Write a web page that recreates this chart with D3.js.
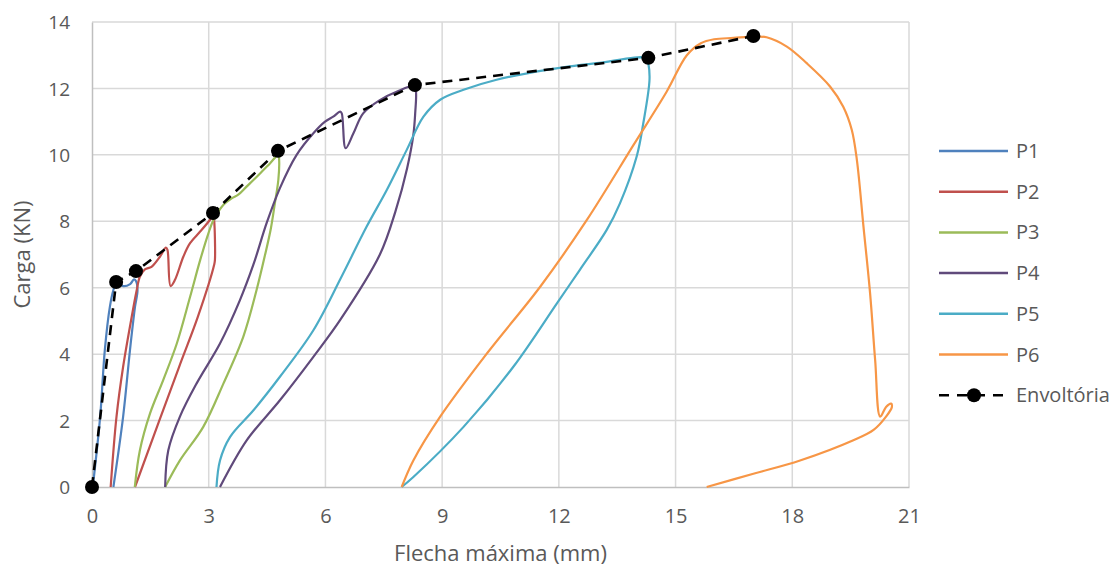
<!DOCTYPE html>
<html>
<head>
<meta charset="utf-8">
<script src="https://cdn.jsdelivr.net/npm/d3@7"></script>
<style>
  body { margin: 0; background: #fff; }
  svg text { font-family: "Open Sans", "Liberation Sans", sans-serif; fill: #595959; }
</style>
</head>
<body>
<div id="chart"></div>
<script>
// series: [flecha (mm), carga (kN)]
const p1 = [[0.02,0],[0.21,2.12],[0.33,4.13],[0.46,5.43],[0.55,5.93],[0.63,6.18],[0.80,6.05],[0.98,6.11],[1.08,6.25],[1.13,6.2],[1.17,5.93],[1.105,5.42],[0.977,4.13],[0.80,2.12],[0.55,0]];
const p2 = [[0.48,0],[0.63,2.12],[0.80,3.62],[1.02,5.12],[1.15,5.93],[1.23,6.33],[1.36,6.55],[1.53,6.63],[1.75,6.94],[1.90,7.21],[1.94,7.14],[2.02,6.05],[2.13,6.23],[2.35,6.94],[2.52,7.34],[2.78,7.69],[3.03,8.04],[3.12,8.19],[3.14,8.04],[3.16,6.84],[3.14,6.69],[2.72,5.12],[2.24,3.62],[1.105,0]];
const p3 = [[1.1,0],[1.23,1.1],[1.49,2.21],[1.83,3.22],[2.18,4.32],[2.52,5.72],[2.78,6.83],[2.99,7.63],[3.12,8.03],[3.38,8.5],[3.59,8.69],[3.76,8.8],[3.98,9.05],[4.32,9.44],[4.58,9.75],[4.79,10.0],[4.81,9.85],[4.79,9.25],[4.70,8.54],[4.60,7.8],[4.45,7.0],[4.23,5.93],[3.89,4.53],[3.38,3.12],[2.86,1.81],[2.26,0.8],[1.88,0]];
const p4 = [[1.88,0],[1.96,1.1],[2.26,2.12],[2.69,3.12],[3.29,4.32],[3.80,5.62],[4.15,6.7],[4.49,7.95],[4.83,9.0],[5.26,10.0],[5.69,10.65],[5.99,11.0],[6.20,11.15],[6.38,11.3],[6.42,11.25],[6.52,10.2],[6.72,10.65],[6.97,11.25],[7.40,11.65],[7.83,11.9],[8.30,12.07],[8.33,11.85],[8.31,11.3],[8.26,10.6],[8.1,9.6],[7.8,8.3],[7.4,7.0],[6.38,5.03],[5.69,3.92],[4.83,2.61],[3.98,1.41],[3.29,0]];
const p5 = [[3.20,0],[3.29,0.8],[3.55,1.51],[4.15,2.31],[4.83,3.32],[5.69,4.72],[6.4,6.3],[7.06,7.84],[7.58,8.95],[8.09,10.15],[8.52,11.15],[8.95,11.66],[9.55,11.96],[10.40,12.26],[11.69,12.56],[12.97,12.76],[14.26,12.91],[14.30,12.76],[14.33,12.26],[14.17,10.95],[14.0,9.95],[13.57,8.54],[13.23,7.74],[12.54,6.54],[11.95,5.53],[10.83,3.62],[9.55,1.81],[8.26,0.3],[7.96,0]];
const p6 = [[7.96,0],[8.26,0.8],[8.95,2.12],[10.15,4.02],[11.52,6.03],[12.72,8.04],[13.92,10.3],[14.77,11.9],[15.29,13.0],[15.65,13.36],[15.99,13.48],[16.49,13.52],[17.01,13.56],[17.34,13.54],[17.86,13.26],[18.37,12.76],[18.97,12.06],[19.31,11.45],[19.53,10.75],[19.66,9.85],[19.83,7.84],[20.0,5.83],[20.13,3.82],[20.26,2.12],[20.41,2.41],[20.54,2.51],[20.56,2.41],[20.41,2.12],[20.09,1.72],[19.57,1.41],[18.20,0.8],[17.0,0.4],[15.80,0]];
const envX = [0, 0.62, 1.13, 3.11, 4.78, 8.3, 14.3, 17.0];
const envY = [0, 6.17, 6.5, 8.25, 10.12, 12.1, 12.92, 13.58];

const seriesNames = ['P1', 'P2', 'P3', 'P4', 'P5', 'P6'];
const seriesColors = ['#4F81BD', '#C0504D', '#9BBB59', '#604A7B', '#4BACC6', '#F79646'];
const xTicks = [0, 3, 6, 9, 12, 15, 18, 21];
const yTicks = [0, 2, 4, 6, 8, 10, 12, 14];

const W = 1115, H = 569;
const margin = { top: 22, right: 206, bottom: 82, left: 92 };
const width = W - margin.left - margin.right;
const height = H - margin.top - margin.bottom;

const x = d3.scaleLinear().domain([0, 21]).range([0, width]);
const y = d3.scaleLinear().domain([0, 14]).range([height, 0]);

const svg = d3.select('#chart').append('svg')
  .attr('width', W)
  .attr('height', H);

const g = svg.append('g')
  .attr('transform', 'translate(' + margin.left + ',' + margin.top + ')');

// gridlines
g.append('g')
  .selectAll('line.vg')
  .data(xTicks.slice(1))
  .enter().append('line')
    .attr('x1', d => x(d)).attr('x2', d => x(d))
    .attr('y1', 0).attr('y2', height)
    .attr('stroke', '#D9D9D9').attr('stroke-width', 1.5);
g.append('g')
  .selectAll('line.hg')
  .data(yTicks.slice(1))
  .enter().append('line')
    .attr('x1', 0).attr('x2', width)
    .attr('y1', d => y(d)).attr('y2', d => y(d))
    .attr('stroke', '#D9D9D9').attr('stroke-width', 1.5);

// axes
const xAxis = d3.axisBottom(x).tickValues(xTicks).tickSize(0).tickPadding(22);
const yAxis = d3.axisLeft(y).tickValues(yTicks).tickSize(0).tickPadding(22);

const gx = g.append('g')
  .attr('transform', 'translate(0,' + height + ')')
  .call(xAxis);
gx.select('.domain').attr('stroke', '#BFBFBF').attr('stroke-width', 1.5);
gx.selectAll('text').style('font-size', '20px').style('font-family', '"Liberation Sans Narrow", "Open Sans", sans-serif').attr('fill', '#595959');

const gy = g.append('g').call(yAxis);
gy.select('.domain').attr('stroke', '#BFBFBF').attr('stroke-width', 1.5);
gy.selectAll('text').style('font-size', '19px').attr('fill', '#595959').attr('dy', '0.35em');

// axis titles
svg.append('text')
  .attr('x', margin.left + width / 2)
  .attr('y', 561)
  .attr('text-anchor', 'middle')
  .style('font-size', '22px')
  .style('font-family', '"Liberation Sans Narrow", "Open Sans", sans-serif')
  .text('Flecha máxima (mm)');

svg.append('text')
  .attr('transform', 'translate(30,' + (margin.top + height / 2) + ') rotate(-90)')
  .attr('text-anchor', 'middle')
  .style('font-size', '22px')
  .text('Carga (KN)');

// series lines
const line = d3.line()
  .x(d => x(d[0]))
  .y(d => y(d[1]))
  .curve(d3.curveCatmullRom.alpha(0.5));

const allSeries = [p1, p2, p3, p4, p5, p6];
allSeries.forEach((s, i) => {
  g.append('path')
    .datum(s)
    .attr('fill', 'none')
    .attr('stroke', seriesColors[i])
    .attr('stroke-width', 2.2)
    .attr('stroke-linejoin', 'round')
    .attr('d', line);
});

// envelope
const env = envX.map((v, i) => [v, envY[i]]);
g.append('path')
  .datum(env)
  .attr('fill', 'none')
  .attr('stroke', '#000')
  .attr('stroke-width', 2.6)
  .attr('stroke-dasharray', '10,7')
  .attr('d', d3.line().x(d => x(d[0])).y(d => y(d[1])));

g.selectAll('circle.env')
  .data(env)
  .enter().append('circle')
    .attr('cx', d => x(d[0]))
    .attr('cy', d => y(d[1]))
    .attr('r', 7)
    .attr('fill', '#000');

// legend
const legend = svg.append('g').attr('transform', 'translate(939,151)');
const rowH = 40.7;
seriesNames.forEach((name, i) => {
  const row = legend.append('g').attr('transform', 'translate(0,' + i * rowH + ')');
  row.append('line')
    .attr('x1', 0).attr('x2', 69)
    .attr('stroke', seriesColors[i]).attr('stroke-width', 2.5);
  row.append('text')
    .attr('x', 77).attr('dy', '0.35em')
    .style('font-size', '20px')
    .text(name);
});
const envRow = legend.append('g').attr('transform', 'translate(0,' + 6 * rowH + ')');
envRow.append('line')
  .attr('x1', 0).attr('x2', 69)
  .attr('stroke', '#000').attr('stroke-width', 2.6)
  .attr('stroke-dasharray', '10,8');
envRow.append('circle').attr('cx', 35).attr('r', 7).attr('fill', '#000');
envRow.append('text')
  .attr('x', 77).attr('dy', '0.35em')
  .style('font-size', '20px')
  .text('Envoltória');
</script>
</body>
</html>
